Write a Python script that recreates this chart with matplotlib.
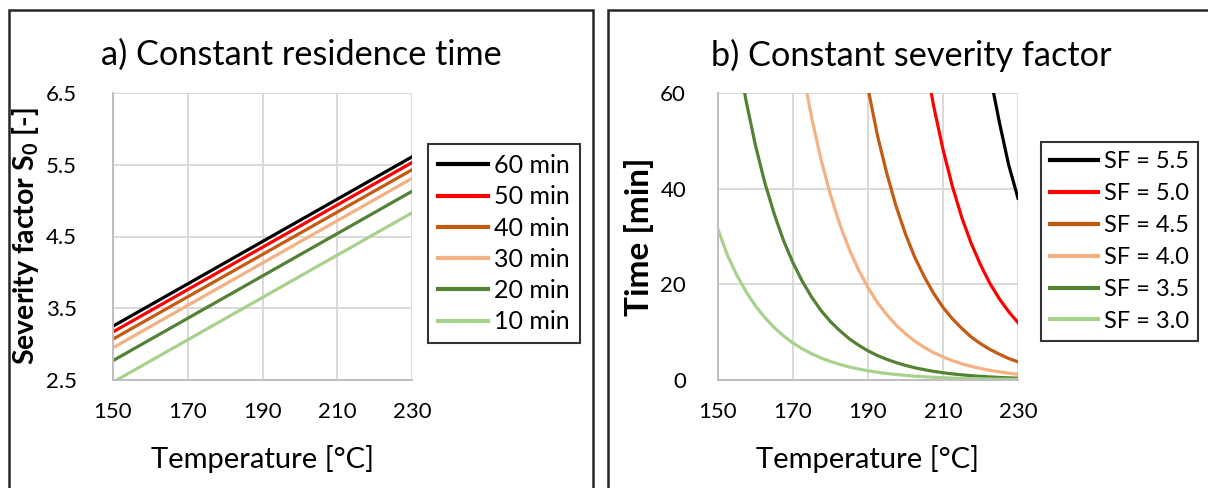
import matplotlib.pyplot as plt
from matplotlib.patches import Rectangle

plt.rcParams['font.family'] = ['Lato', 'DejaVu Sans']
plt.rcParams['mathtext.fontset'] = 'custom'
plt.rcParams['mathtext.rm'] = 'Lato'
plt.rcParams['mathtext.bf'] = 'Lato:bold'

# panel a: severity factor vs temperature at fixed residence time
temps_a = [150, 230]
labels_a = ['60 min', '50 min', '40 min', '30 min', '20 min', '10 min']
s0_60 = [3.25, 5.61]
s0_50 = [3.17, 5.53]
s0_40 = [3.07, 5.43]
s0_30 = [2.95, 5.31]
s0_20 = [2.77, 5.13]
s0_10 = [2.47, 4.83]

# panel b: time needed for a fixed severity factor (read every 2.5 degC)
temps_b = [150, 152.5, 155, 157.5, 160, 162.5, 165, 167.5, 170, 172.5, 175,
           177.5, 180, 182.5, 185, 187.5, 190, 192.5, 195, 197.5, 200, 202.5,
           205, 207.5, 210, 212.5, 215, 217.5, 220, 222.5, 225, 227.5, 230]
labels_b = ['SF = 5.5', 'SF = 5.0', 'SF = 4.5', 'SF = 4.0', 'SF = 3.5', 'SF = 3.0']
t_55 = [9820, 8250, 6940, 5830, 4900, 4120, 3470, 2910, 2450, 2060, 1730,
        1450, 1220, 1030, 863, 727, 610, 512, 432, 363, 305, 256,
        216, 181, 152, 128, 108, 90, 76, 64, 54, 45, 38]
t_50 = [3105, 2610, 2194, 1844, 1550, 1303, 1096, 921, 774, 651, 547,
        460, 387, 325, 273, 230, 193, 162, 136.5, 114.7, 96.5, 81.1,
        68.2, 57.3, 48.2, 40.5, 34.0, 28.6, 24.1, 20.2, 17.0, 14.3, 12.0]
t_45 = [982, 825, 694, 583, 490, 412, 347, 291, 245, 206, 173,
        145, 122, 103, 86.3, 72.7, 61.0, 51.2, 43.2, 36.3, 30.5, 25.6,
        21.6, 18.1, 15.2, 12.8, 10.8, 9.0, 7.6, 6.4, 5.4, 4.5, 3.8]
t_40 = [310.5, 261.0, 219.4, 184.4, 155.0, 130.3, 109.6, 92.1, 77.4, 65.1, 54.7,
        46.0, 38.7, 32.5, 27.3, 23.0, 19.3, 16.2, 13.65, 11.47, 9.65, 8.11,
        6.82, 5.73, 4.82, 4.05, 3.40, 2.86, 2.41, 2.02, 1.70, 1.43, 1.20]
t_35 = [98.2, 82.5, 69.4, 58.3, 49.0, 41.2, 34.7, 29.1, 24.5, 20.6, 17.3,
        14.5, 12.2, 10.3, 8.63, 7.27, 6.10, 5.12, 4.32, 3.63, 3.05, 2.56,
        2.16, 1.81, 1.52, 1.28, 1.08, 0.90, 0.76, 0.64, 0.54, 0.45, 0.38]
t_30 = [31.5, 26.1, 21.94, 18.44, 15.50, 13.03, 10.96, 9.21, 7.74, 6.51, 5.47,
        4.60, 3.87, 3.25, 2.73, 2.30, 1.93, 1.62, 1.365, 1.147, 0.965, 0.811,
        0.682, 0.573, 0.482, 0.405, 0.340, 0.286, 0.241, 0.202, 0.170, 0.143, 0.120]

colors = ['#000000', '#FF0000', '#C55A11', '#F4B183', '#548235', '#A9D18E']

W, H = 1208, 488
fig = plt.figure(figsize=(W / 100, H / 100), dpi=100)

# outer boxes around each panel
fig.patches.append(Rectangle((9 / W, -0.05), (593 - 9) / W, 1.05 - 10 / H,
                             transform=fig.transFigure, fill=False,
                             edgecolor='#262626', linewidth=1.8))
fig.patches.append(Rectangle((608 / W, -0.05), (1240 - 608) / W, 1.05 - 10 / H,
                             transform=fig.transFigure, fill=False,
                             edgecolor='#262626', linewidth=1.8))

ax1 = fig.add_axes([113 / W, 1 - 380 / H, 299 / W, 287 / H])
ax2 = fig.add_axes([718 / W, 1 - 380 / H, 300 / W, 287 / H])


def style(ax, ypad):
    ax.grid(True, color='#D9D9D9', linewidth=1.4)
    ax.set_axisbelow(True)
    for s in ['top', 'right']:
        ax.spines[s].set_visible(False)
    for s in ['left', 'bottom']:
        ax.spines[s].set_color('#BFBFBF')
        ax.spines[s].set_linewidth(1.4)
    ax.tick_params(length=0, labelsize=16, colors='#000000')
    ax.tick_params(axis='x', pad=16)
    ax.tick_params(axis='y', pad=ypad)
    ax.set_xlim(150, 230)
    ax.set_xticks([150, 170, 190, 210, 230])
    ax.set_xlabel('Temperature [°C]', fontsize=21)
    ax.xaxis.set_label_coords(0.5, -0.225)


series_a = [s0_60, s0_50, s0_40, s0_30, s0_20, s0_10]
for vals, lab, c in zip(series_a, labels_a, colors):
    ax1.plot(temps_a, vals, color=c, linewidth=2.3, label=lab)
style(ax1, 26)
ax1.set_ylim(2.5, 6.5)
ax1.set_yticks([2.5, 3.5, 4.5, 5.5, 6.5])
ax1.set_ylabel(r'Severity factor S$_\mathbf{0}$ [-]', fontsize=20.5, fontweight='bold')
ax1.yaxis.set_label_coords(-0.24, 0.5)

series_b = [t_55, t_50, t_45, t_40, t_35, t_30]
for vals, lab, c in zip(series_b, labels_b, colors):
    ax2.plot(temps_b, vals, color=c, linewidth=2.3, label=lab)
style(ax2, 23)
ax2.set_ylim(0, 60)
ax2.set_yticks([0, 20, 40, 60])
ax2.set_ylabel('Time [min]', fontsize=24, fontweight='bold')
ax2.yaxis.set_label_coords(-0.215, 0.5)

for ax, x0, y0, fs, sp in [(ax1, 428, 144, 18, 0.33), (ax2, 1041, 142, 17, 0.46)]:
    leg = ax.legend(loc='upper left', bbox_to_anchor=(x0 / W, 1 - y0 / H),
                    bbox_transform=fig.transFigure, fontsize=fs, frameon=True,
                    fancybox=False, handlelength=2.0, handletextpad=0.25,
                    labelspacing=sp, borderpad=0.4, borderaxespad=0)
    leg.get_frame().set_edgecolor('#000000')
    leg.get_frame().set_linewidth(1.5)
    for line in leg.get_lines():
        line.set_linewidth(3)

fig.text(301 / W, 1 - 55 / H, 'a) Constant residence time', fontsize=24.7,
         ha='center', va='center')
fig.text(911 / W, 1 - 55 / H, 'b) Constant severity factor', fontsize=24.7,
         ha='center', va='center')

fig.savefig('out.png', dpi=100)
